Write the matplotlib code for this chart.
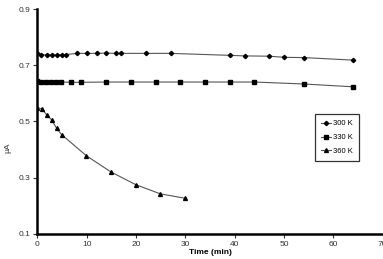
import matplotlib
matplotlib.use("Agg")
import matplotlib.pyplot as plt

plt.rcParams['font.family'] = ['Liberation Sans', 'DejaVu Sans']

t300 = [0, 0.75, 1.9, 2.9, 3.9, 4.9, 5.9, 8, 10, 12, 14, 16, 17, 22, 27, 39, 42, 47, 50, 54, 64]
y300 = [0.742, 0.738, 0.736, 0.736, 0.736, 0.737, 0.738, 0.742, 0.742, 0.742, 0.743, 0.742, 0.742, 0.742, 0.742,
        0.735, 0.733, 0.732, 0.728, 0.727, 0.718]
t330 = [0, 0.75, 1.8, 2.8, 3.8, 4.8, 6.9, 8.9, 14, 19, 24, 29, 34, 39, 44, 54, 64]
y330 = [0.644, 0.640, 0.640, 0.640, 0.640, 0.640, 0.639, 0.639, 0.640, 0.640, 0.640, 0.640, 0.640, 0.640, 0.640,
        0.633, 0.623]
t360 = [0, 0.9, 1.9, 2.9, 3.9, 4.9, 9.9, 14.9, 19.9, 24.9, 30]
y360 = [0.549, 0.544, 0.523, 0.505, 0.475, 0.453, 0.378, 0.320, 0.275, 0.242, 0.226]

labels = ["300 K", "330 K", "360 K"]
xticks = [0, 10, 20, 30, 40, 50, 60, 70]
yticks = [0.1, 0.3, 0.5, 0.7, 0.9]

fig = plt.figure(figsize=(3.83, 2.59), dpi=100)
ax = fig.add_axes([37.4/383, 1-233.7/259, 345.2/383, 224.7/259])

lc = '#555555'
ax.plot(t300, y300, color=lc, lw=0.8, marker='D', ms=2.2, mfc='black', mec='black', label=labels[0])
ax.plot(t330, y330, color=lc, lw=0.8, marker='s', ms=2.6, mfc='black', mec='black', label=labels[1])
ax.plot(t360, y360, color=lc, lw=0.8, marker='^', ms=2.8, mfc='black', mec='black', label=labels[2])

ax.set_xlim(0, 70)
ax.set_ylim(0.1, 0.9)
ax.set_xticks(xticks)
ax.set_yticks(yticks)
ax.set_xticklabels([str(v) for v in xticks])
ax.set_yticklabels([f"{v:.1f}" for v in yticks])
for s in ['top', 'right']:
    ax.spines[s].set_visible(False)
for s in ['left', 'bottom']:
    ax.spines[s].set_linewidth(1.8)
ax.tick_params(labelsize=6, colors='#333333', length=3, width=0.8, pad=2)

ax.set_xlabel("Time (min)", fontsize=6, fontweight='bold', labelpad=1)
fig.text(8/383, 1-148/259, "μA", rotation=90, fontsize=6, ha='center', va='center', color='#333333')

leg = ax.legend(loc='upper left', bbox_to_anchor=((315-37.4)/345.2, 1-(114-9)/224.7), fontsize=5.5,
                frameon=True, fancybox=False, edgecolor='black', borderpad=0.8, handlelength=1.3,
                labelspacing=0.85, handletextpad=0.3, borderaxespad=0)
leg.get_frame().set_linewidth(0.9)

fig.savefig("out.png", dpi=100)
